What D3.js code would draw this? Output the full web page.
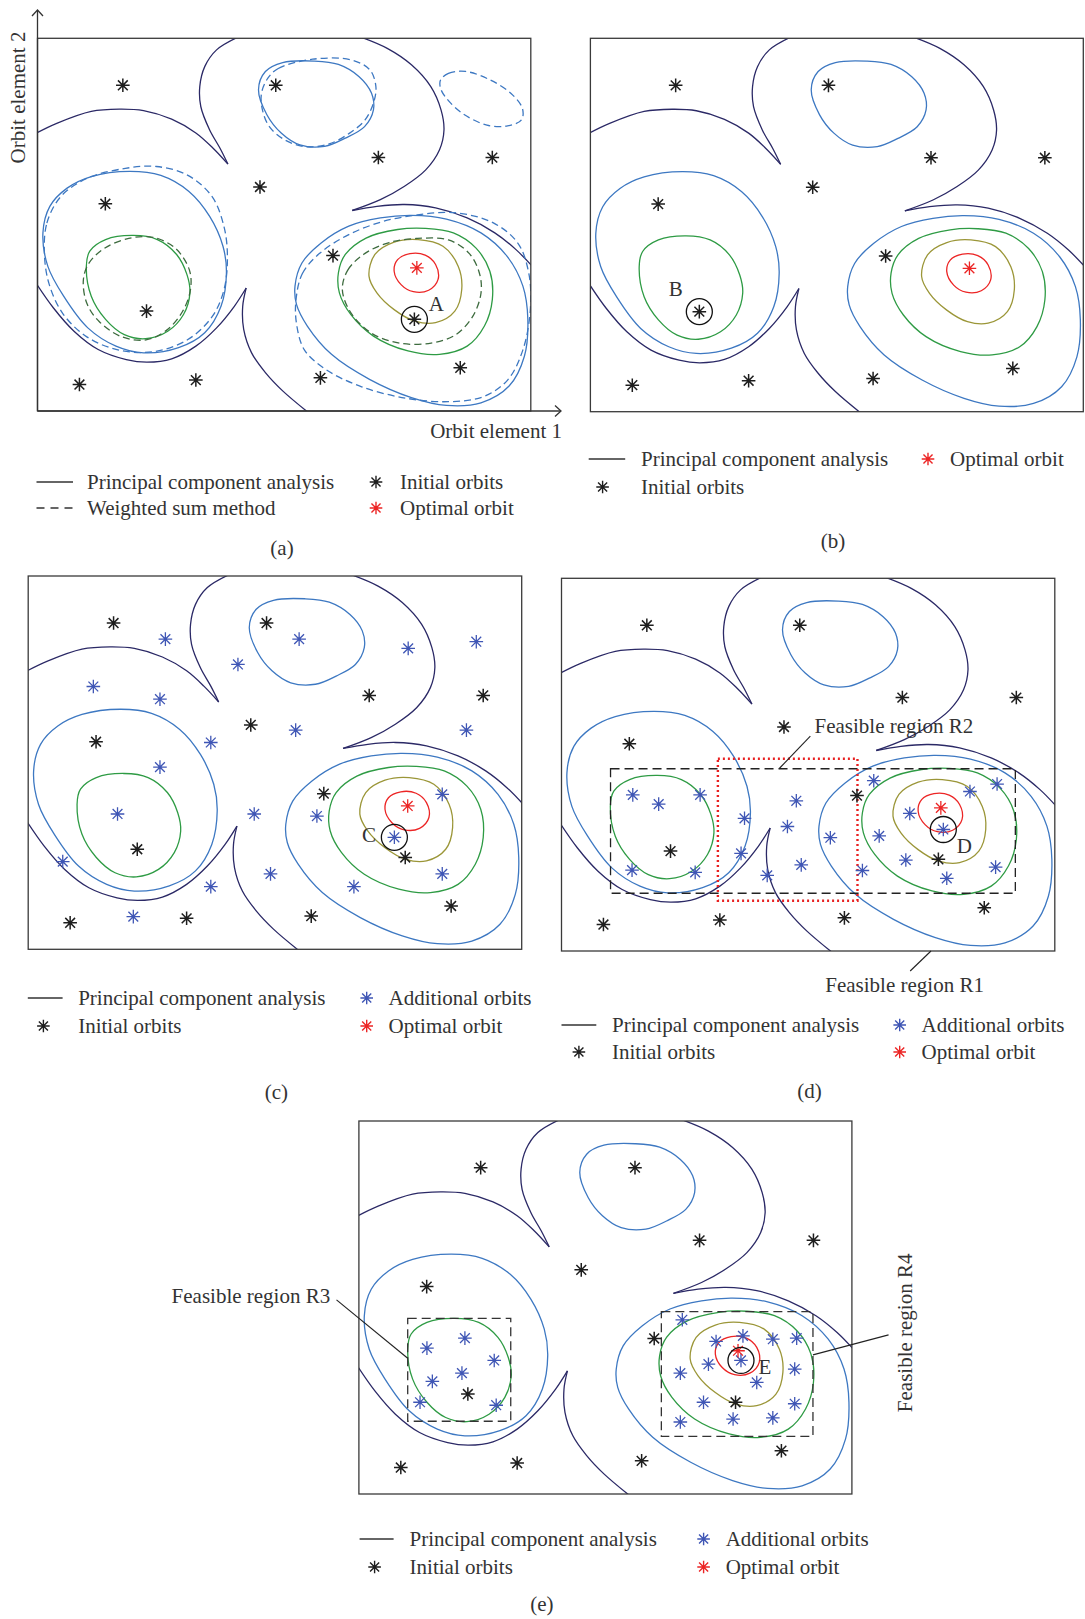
<!DOCTYPE html>
<html>
<head>
<meta charset="utf-8">
<script src="https://cdn.jsdelivr.net/npm/d3@7"></script>
<style>
  body { margin: 0; background: #fff; }
  svg text { font-family: "Liberation Serif", "DejaVu Serif", serif; fill: #333; }
</style>
</head>
<body>
<svg id="fig" width="1085" height="1619"></svg>
<script>
// ---------------------------------------------------------------------------
// Design space: orbit element 1 (x) and orbit element 2 (y), both 0-100,
// y counted from the top of each panel.
// ---------------------------------------------------------------------------

// PCA landscape: open boundary arcs (consecutive pairs meet at a cusp)
const pcaArcs = [
  [[-0.5,25.6],[3.9,22.8],[10.9,19.6],[16.6,19.0],[21.5,19.4],[27.2,21.7],[32.1,25.4],[35.6,29.5],[38.6,33.75]],
  [[38.6,33.75],[37.0,29.5],[34.9,24.6],[33.1,18.3],[32.9,12.9],[33.9,7.6],[36.3,3.1],[40.6,-0.3]],
  [[65.6,-0.3],[70.9,2.7],[75.8,7.1],[79.7,12.9],[81.8,19.2],[82.4,24.6],[81.5,29.9],[78.7,35.3],[74.4,39.7],[69.5,43.3],[63.8,46.2]],
  [[63.8,46.2],[68.8,45.1],[74.4,44.6],[80.7,45.5],[87.1,48.2],[92.7,52.2],[97.0,56.7],[100.4,61.3]],
  [[-0.5,65.3],[3.2,72.3],[7.4,78.6],[12.3,83.5],[18.0,86.2],[22.2,86.9],[27.2,86.0],[32.1,82.6],[36.3,77.7],[39.9,71.9],[42.3,67.0]],
  [[42.3,67.0],[41.6,71.9],[41.8,78.1],[43.4,84.4],[46.2,89.7],[49.7,94.6],[54.9,100.4]]
];

// PCA closed contours, one array per level (outer -> inner)
const pcaLevelBlue = [
  [[44.8,13.8],[46.2,8.9],[49.7,6.5],[56.1,6.1],[61.0,7.0],[65.2,10.3],[67.7,14.7],[68.1,19.2],[66.3,23.7],[62.4,26.8],[58.2,29.0],[53.2,28.6],[49.4,25.4],[46.5,20.5]],
  [[1.1,52.2],[2.5,45.1],[6.0,40.2],[10.9,37.1],[18.7,35.7],[25.0,36.8],[30.7,41.1],[34.9,47.8],[37.6,55.8],[38.3,62.9],[37.2,71.9],[33.9,79.0],[28.6,83.0],[21.5,84.4],[15.9,82.6],[10.2,77.7],[5.3,69.2],[2.1,61.2]],
  [[52.2,66.5],[53.6,60.3],[57.5,54.9],[63.1,50.4],[69.5,48.2],[75.8,47.5],[82.9,48.5],[89.9,52.2],[95.2,58.5],[98.4,66.5],[99.4,75.4],[98.7,85.3],[95.6,93.3],[89.9,97.8],[82.9,98.5],[75.8,96.4],[67.3,91.5],[59.6,84.8],[54.7,77.2],[52.5,71.4]]
];
const pcaLevelGreen = [
  [[9.9,61.2],[10.6,57.1],[13.8,54.0],[19.4,52.9],[24.3,54.0],[28.2,58.0],[30.3,63.4],[30.9,68.3],[29.6,74.1],[26.4,78.6],[21.9,80.6],[17.6,79.5],[13.8,75.4],[10.9,69.2]],
  [[61.0,62.9],[62.4,58.0],[66.6,53.6],[73.0,51.3],[78.6,51.0],[84.3,52.2],[88.9,56.3],[91.7,62.5],[92.2,70.1],[90.6,77.2],[87.1,82.6],[81.5,84.8],[75.1,83.9],[68.1,79.9],[63.5,74.1],[61.2,68.3]]
];
const pcaLevelOlive = [
  [[67.2,63.8],[68.4,58.0],[72.3,54.7],[77.2,54.0],[82.2,55.8],[85.3,61.2],[86.0,67.4],[84.6,73.2],[80.7,76.3],[76.5,75.9],[72.3,72.8],[68.8,68.3]]
];
const pcaLevelRed = [
  [[72.3,62.5],[73.0,59.4],[75.5,57.8],[78.6,58.2],[80.7,60.7],[81.2,64.7],[79.3,67.6],[76.2,68.0],[73.7,66.1]]
];

// Weighted sum method contours
const wsmLevelBlue = [
  [[46.7,10.7],[48.8,8.1],[55.8,5.6],[63.6,5.8],[67.4,8.5],[68.6,13.0],[68.1,17.4],[66.4,21.9],[63.2,25.5],[59.0,28.4],[54.4,29.1],[50.2,27.3],[47.0,23.7],[45.6,19.2],[45.4,14.8]],
  [[81.7,11.2],[83.3,9.4],[86.8,8.9],[91.8,11.2],[96.0,14.8],[98.3,18.8],[98.1,21.9],[95.3,23.5],[91.1,23.3],[86.1,20.1],[82.9,16.1],[81.7,13.4]],
  [[1.4,57.7],[1.9,49.6],[4.7,42.5],[10.0,37.6],[17.8,34.9],[24.1,34.4],[30.4,36.7],[35.4,42.5],[37.8,50.5],[38.5,58.6],[37.8,67.5],[35.4,74.7],[30.4,80.9],[23.4,84.1],[16.3,83.6],[10.0,80.1],[5.1,73.8],[2.3,65.7]],
  [[52.4,70.2],[53.7,63.1],[57.2,57.7],[62.9,52.8],[69.9,49.2],[77.0,47.4],[84.7,46.8],[92.5,49.6],[97.4,55.0],[99.6,63.1],[99.9,72.9],[98.4,83.6],[95.3,91.7],[90.3,96.2],[83.3,97.5],[74.8,96.6],[65.7,93.5],[58.6,89.0],[54.1,83.6],[52.5,76.5]]
];
const wsmLevelGreen = [
  [[9.3,64.8],[10.4,60.4],[13.5,56.4],[18.5,53.7],[23.4,53.4],[28.0,56.4],[30.8,62.2],[31.0,67.5],[29.4,73.3],[26.2,78.3],[22.0,80.9],[17.1,80.1],[12.5,76.0],[10.0,71.1]],
  [[61.8,67.5],[62.9,62.2],[66.4,57.7],[71.3,54.8],[77.0,53.7],[83.3,54.1],[87.5,57.7],[89.6,63.1],[89.9,68.4],[88.2,74.7],[84.7,79.6],[79.8,81.8],[73.4,81.8],[67.8,79.2],[63.6,73.8]]
];

// Orbits
const initialOrbits = [[17.3,12.6],[48.3,12.6],[69.1,32.0],[92.2,32.0],[13.75,44.4],[45.1,39.9],[59.9,58.3],[22.1,73.2],[8.5,92.9],[32.1,91.7],[57.35,91.1],[85.7,88.4],[76.4,75.4]];
const initialOrbitsB = [[17.3,12.6],[48.3,12.6],[69.1,32.0],[92.2,32.0],[13.75,44.4],[45.1,39.9],[59.9,58.3],[22.1,73.2],[8.5,92.9],[32.1,91.7],[57.35,91.1],[85.7,88.4]];
const initialOrbitsE = [[24.7,12.5],[56.0,12.5],[69.1,32.0],[92.2,32.0],[13.75,44.4],[45.1,39.9],[59.9,58.3],[22.1,73.2],[8.5,92.9],[32.1,91.7],[57.35,91.1],[85.7,88.4],[76.4,75.4]];
const optimalOrbit = [[76.9,61.6]];

const additionalOrbitsC = [[27.8,16.9],[54.9,16.9],[77.0,19.4],[90.8,17.6],[42.5,23.7],[13.2,29.6],[26.7,33.0],[54.2,41.3],[88.8,41.3],[37.0,44.6],[26.7,51.2],[18.1,63.75],[45.8,63.75],[58.5,64.3],[83.9,58.5],[74.2,70.0],[7.0,76.5],[49.1,79.8],[83.9,79.8],[66.0,83.2],[37.0,83.2],[21.3,91.25]];
const additionalOrbitsD = [[14.45,58.1],[19.7,60.6],[28.1,58.1],[37.1,64.4],[36.4,73.8],[14.3,78.3],[27.1,78.9],[47.6,59.7],[45.8,66.6],[48.6,76.9],[41.7,79.7],[54.5,69.6],[61.0,78.4],[63.3,54.3],[70.6,63.1],[64.4,69.1],[69.8,75.6],[82.8,57.2],[88.3,55.2],[77.4,67.4],[88.0,77.5],[78.1,80.5]];
const additionalOrbitsE = [[13.8,60.9],[21.5,58.2],[27.45,64.2],[20.9,67.6],[14.9,69.8],[12.4,75.4],[27.85,76.2],[65.6,53.3],[72.45,59.1],[77.9,57.6],[83.96,58.5],[88.8,58.2],[70.9,65.2],[77.5,64.2],[80.7,70.1],[88.4,66.5],[65.2,67.6],[69.9,75.4],[88.4,75.8],[65.2,80.7],[75.9,79.9],[83.96,79.6]];

// Highlighted orbits (circled) and their labels
const markedA = [{name: "A", at: [76.4,75.4]}];
const markedB = [{name: "B", at: [22.1,73.2]}];
const markedC = [{name: "C", at: [74.2,70.0]}];
const markedD = [{name: "D", at: [77.4,67.4]}];
const markedE = [{name: "E", at: [77.5,64.2]}];

// Feasible regions [x0, y0, x1, y1]
const regionR1 = [9.94, 51.1, 92.0, 84.5];
const regionR2 = [31.7, 48.4, 60.0, 86.5];
const regionR3 = [9.9, 52.9, 30.8, 80.5];
const regionR4 = [61.35, 51.1, 92.1, 84.55];

// Legend entries
const legendTexts = {
  pca: "Principal component analysis",
  wsm: "Weighted sum method",
  initial: "Initial orbits",
  additional: "Additional orbits",
  optimal: "Optimal orbit"
};

// ---------------------------------------------------------------------------
const COL = {
  navy: "#2b2966", blue: "#3d78c2", green: "#2e9b44", olive: "#9b9638",
  red: "#ec2525", wsGreen: "#3d6b3e", add: "#3f56b5", ink: "#1e1e1e",
  frame: "#3a3a3a"
};
const LW = 1.3;
const FONT = 21;
const STAR_R = 6.8;
const svg = d3.select("#fig");

function starPath(cx, cy, r) {
  const d = r * 0.72;
  return `M${cx - r},${cy}H${cx + r}M${cx},${cy - r}V${cy + r}` +
         `M${cx - d},${cy - d}L${cx + d},${cy + d}M${cx - d},${cy + d}L${cx + d},${cy - d}`;
}

function panel(cfg) {
  const [x0, y0, x1, y1] = cfg.box;
  const x = d3.scaleLinear().domain([0, 100]).range([x0, x1]);
  const y = d3.scaleLinear().domain([0, 100]).range([y0, y1]);
  const g = svg.append("g").attr("class", "panel-" + cfg.key);
  const clipId = "clip-" + cfg.key;
  svg.append("defs").append("clipPath").attr("id", clipId)
    .append("rect").attr("x", x0).attr("y", y0).attr("width", x1 - x0).attr("height", y1 - y0);
  const plot = g.append("g").attr("clip-path", `url(#${clipId})`);

  const openLine = d3.line().x(d => x(d[0])).y(d => y(d[1])).curve(d3.curveCatmullRom.alpha(0.5));
  const closedLine = d3.line().x(d => x(d[0])).y(d => y(d[1])).curve(d3.curveCatmullRomClosed.alpha(0.5));

  const contours = (sets, color, dash) => {
    plot.append("g").selectAll("path").data(sets).join("path")
      .attr("d", closedLine).attr("fill", "none").attr("stroke", color)
      .attr("stroke-width", LW).attr("stroke-dasharray", dash || null);
  };

  plot.append("g").selectAll("path").data(pcaArcs).join("path")
    .attr("d", openLine).attr("fill", "none").attr("stroke", COL.navy).attr("stroke-width", LW);
  contours(pcaLevelBlue, COL.blue);
  contours(pcaLevelGreen, COL.green);
  contours(pcaLevelOlive, COL.olive);
  contours(pcaLevelRed, COL.red);
  if (cfg.wsm) {
    contours(wsmLevelBlue, COL.blue, "7,4");
    contours(wsmLevelGreen, COL.wsGreen, "7,4");
  }

  // feasible regions
  (cfg.regions || []).forEach(r => {
    g.append("rect")
      .attr("x", x(r.box[0])).attr("y", y(r.box[1]))
      .attr("width", x(r.box[2]) - x(r.box[0])).attr("height", y(r.box[3]) - y(r.box[1]))
      .attr("fill", "none").attr("stroke", r.color).attr("stroke-width", r.width)
      .attr("stroke-dasharray", r.dash);
  });

  const stars = (pts, color, r, w) => {
    g.append("g").selectAll("path").data(pts).join("path")
      .attr("d", d => starPath(x(d[0]), y(d[1]), r))
      .attr("fill", "none").attr("stroke", color).attr("stroke-width", w);
  };
  if (cfg.additional) stars(cfg.additional, COL.add, STAR_R, 1.3);
  stars(cfg.initial, COL.ink, STAR_R, 1.5);
  stars(optimalOrbit, COL.red, STAR_R, 1.3);

  // circled orbit with its letter
  (cfg.marked || []).forEach(m => {
    g.append("circle").attr("cx", x(m.at[0])).attr("cy", y(m.at[1])).attr("r", 13)
      .attr("fill", "none").attr("stroke", "#111").attr("stroke-width", 1.3);
    g.append("text").attr("x", x(m.at[0]) + cfg.labelOffset[0]).attr("y", y(m.at[1]) + cfg.labelOffset[1] + 7)
      .attr("text-anchor", "middle").attr("font-size", FONT).text(m.name);
  });

  // frame
  g.append("rect").attr("x", x0).attr("y", y0).attr("width", x1 - x0).attr("height", y1 - y0)
    .attr("fill", "none").attr("stroke", COL.frame).attr("stroke-width", 1.3);

  return { g, x, y };
}

function legend(items) {
  const lg = svg.append("g").attr("class", "legend");
  items.forEach(it => {
    if (it.kind === "solid" || it.kind === "dashed") {
      lg.append("line").attr("x1", it.mx).attr("x2", it.mx2).attr("y1", it.y).attr("y2", it.y)
        .attr("stroke", "#333").attr("stroke-width", 1.3)
        .attr("stroke-dasharray", it.kind === "dashed" ? "8,6" : null);
    } else {
      lg.append("path").attr("d", starPath(it.mx, it.y, 6.3))
        .attr("fill", "none").attr("stroke", it.color).attr("stroke-width", 1.4);
    }
    lg.append("text").attr("x", it.tx).attr("y", it.y + 6.5).attr("font-size", FONT).text(it.label);
  });
}

function caption(label, cx, cy) {
  svg.append("text").attr("x", cx).attr("y", cy + 6).attr("text-anchor", "middle")
    .attr("font-size", FONT).text(label);
}

// ---------------- (a) ----------------
const pA = panel({ key: "a", box: [37.5, 38.3, 530.8, 411], wsm: true,
  initial: initialOrbits, marked: markedA, labelOffset: [22, -15.5] });
{
  const ax = svg.append("g").attr("fill", "none").attr("stroke", "#333").attr("stroke-width", 1.3);
  ax.append("path").attr("d", `M${pA.x(0)},${pA.y(100)}V10`);
  ax.append("path").attr("d", `M${pA.x(0) - 5.5},16L${pA.x(0)},10L${pA.x(0) + 5.5},16`);
  ax.append("path").attr("d", `M${pA.x(0)},${pA.y(100)}H561`);
  ax.append("path").attr("d", `M555,${pA.y(100) - 5.5}L561,${pA.y(100)}L555,${pA.y(100) + 5.5}`);
  svg.append("text").attr("transform", "translate(25,97.5) rotate(-90)").attr("text-anchor", "middle")
    .attr("font-size", FONT).text("Orbit element 2");
  svg.append("text").attr("x", 562).attr("y", 438).attr("text-anchor", "end")
    .attr("font-size", FONT).text("Orbit element 1");
}
legend([
  { kind: "solid", mx: 36.5, mx2: 73, y: 482, tx: 87, label: legendTexts.pca },
  { kind: "dashed", mx: 36.5, mx2: 73, y: 508, tx: 87, label: legendTexts.wsm },
  { kind: "star", color: COL.ink, mx: 376, y: 482, tx: 400, label: legendTexts.initial },
  { kind: "star", color: COL.red, mx: 376, y: 508, tx: 400, label: legendTexts.optimal }
]);
caption("(a)", 282, 549);

// ---------------- (b) ----------------
panel({ key: "b", box: [590.4, 38.3, 1083.3, 411.7],
  initial: initialOrbitsB, marked: markedB, labelOffset: [-23.6, -23] });
legend([
  { kind: "solid", mx: 588.7, mx2: 625.2, y: 459, tx: 641, label: legendTexts.pca },
  { kind: "star", color: COL.ink, mx: 602.6, y: 487, tx: 641, label: legendTexts.initial },
  { kind: "star", color: COL.red, mx: 928, y: 459, tx: 950, label: legendTexts.optimal }
]);
caption("(b)", 833, 542);

// ---------------- (c) ----------------
panel({ key: "c", box: [28.2, 576, 521.7, 949.3],
  initial: initialOrbits, additional: additionalOrbitsC, marked: markedC, labelOffset: [-25.4, -2] });
legend([
  { kind: "solid", mx: 27.8, mx2: 62.6, y: 998, tx: 78.2, label: legendTexts.pca },
  { kind: "star", color: COL.ink, mx: 43.4, y: 1026, tx: 78.2, label: legendTexts.initial },
  { kind: "star", color: COL.add, mx: 366.7, y: 998, tx: 388.6, label: legendTexts.additional },
  { kind: "star", color: COL.red, mx: 366.7, y: 1026, tx: 388.6, label: legendTexts.optimal }
]);
caption("(c)", 276.3, 1093);

// ---------------- (d) ----------------
const pD = panel({ key: "d", box: [561.5, 578.3, 1054.8, 951],
  initial: initialOrbits, additional: additionalOrbitsD, marked: markedD, labelOffset: [21, 17],
  regions: [
    { box: regionR1, color: "#222", width: 1.3, dash: "9,5" },
    { box: regionR2, color: "#e82020", width: 2.4, dash: "2,3" }
  ] });
{
  const sx = pD.x(44.1), sy = pD.y(regionR1[1]);
  svg.append("path").attr("d", `M${sx},${sy}L${sx + 31.3},${sy - 32.6}`).attr("stroke", "#222").attr("stroke-width", 1.1);
  svg.append("text").attr("x", sx + 35.5).attr("y", sy - 35.6).attr("font-size", FONT).text("Feasible region R2");
  const bx = pD.x(74.9), by = pD.y(100);
  svg.append("path").attr("d", `M${bx},${by}L${bx - 20.8},${by + 20}`).attr("stroke", "#222").attr("stroke-width", 1.1);
  svg.append("text").attr("x", bx - 26.4).attr("y", by + 41).attr("text-anchor", "middle").attr("font-size", FONT).text("Feasible region R1");
}
legend([
  { kind: "solid", mx: 561.5, mx2: 596.3, y: 1025, tx: 612, label: legendTexts.pca },
  { kind: "star", color: COL.ink, mx: 578.9, y: 1052, tx: 612, label: legendTexts.initial },
  { kind: "star", color: COL.add, mx: 899.7, y: 1025, tx: 921.6, label: legendTexts.additional },
  { kind: "star", color: COL.red, mx: 899.7, y: 1052, tx: 921.6, label: legendTexts.optimal }
]);
caption("(d)", 809.4, 1092);

// ---------------- (e) ----------------
const pE = panel({ key: "e", box: [358.9, 1121, 851.9, 1494],
  initial: initialOrbitsE, additional: additionalOrbitsE, marked: markedE, labelOffset: [24, 7],
  regions: [
    { box: regionR3, color: "#333", width: 1.3, dash: "9,5" },
    { box: regionR4, color: "#333", width: 1.3, dash: "9,5" }
  ] });
{
  const ex = pE.x(regionR3[0]), ey = pE.y(63.6);
  svg.append("path").attr("d", `M${ex},${ey}L${ex - 71.2},${ey - 58.3}`).attr("stroke", "#222").attr("stroke-width", 1.1);
  svg.append("text").attr("x", ex - 77.5).attr("y", ey - 55.3).attr("text-anchor", "end").attr("font-size", FONT).text("Feasible region R3");
  const fx = pE.x(regionR4[2]), fy = pE.y(62.7);
  svg.append("path").attr("d", `M${fx},${fy}L${fx + 75.6},${fy - 20}`).attr("stroke", "#222").attr("stroke-width", 1.1);
  svg.append("text").attr("transform", `translate(${fx + 99},${fy - 22}) rotate(-90)`).attr("text-anchor", "middle")
    .attr("font-size", FONT).text("Feasible region R4");
}
legend([
  { kind: "solid", mx: 359.6, mx2: 393.6, y: 1539, tx: 409.6, label: legendTexts.pca },
  { kind: "star", color: COL.ink, mx: 374.6, y: 1567, tx: 409.6, label: legendTexts.initial },
  { kind: "star", color: COL.add, mx: 703.6, y: 1539, tx: 725.7, label: legendTexts.additional },
  { kind: "star", color: COL.red, mx: 703.6, y: 1567, tx: 725.7, label: legendTexts.optimal }
]);
caption("(e)", 541.8, 1605);
</script>
</body>
</html>
